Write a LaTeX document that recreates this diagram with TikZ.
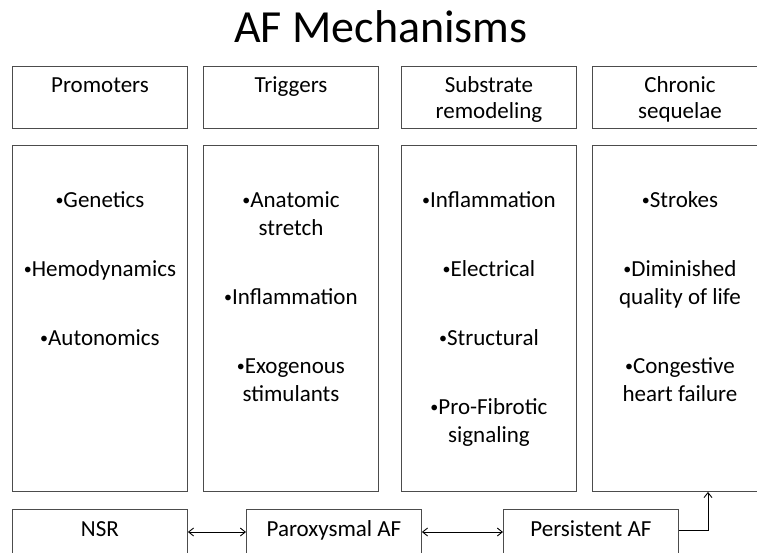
\documentclass[tikz,border=0pt]{standalone}
\usepackage{fontspec}
\setmainfont{Carlito}
\usetikzlibrary{arrows.meta}

\newcommand{\itm}{\raisebox{1.5pt}{\fontsize{16}{16}\selectfont •}}

\begin{document}
\begin{tikzpicture}[x=1pt, y=-1pt]
\useasboundingbox (0,0) rectangle (757,552);

\node (title) at (381,42) [anchor=base, font=\fontsize{46}{50}\selectfont] {AF Mechanisms};

% column headers
\begin{scope}[every node/.style={draw=black!70, line width=0.9pt, anchor=north west, inner sep=0pt,
              text width=175pt, align=flush center, font=\fontsize{23}{26}\selectfont,
              text height=26pt, text depth=36pt}]
    \node (prom) at (12, 66) {Promoters};
    \node (trig) at (203, 66) {Triggers};
    \node (subs) at (401, 66) {Substrate\\remodeling};
    \node (chron) at (592, 66) {Chronic\\sequelae};
\end{scope}

% lists
\begin{scope}[every node/.style={draw=black!70, line width=0.9pt, anchor=north west, inner sep=0pt,
              text width=175pt, align=flush center, font=\fontsize{23}{28}\selectfont,
              text height=62pt, text depth=284pt}]
    \node (promlist) at (12, 145) {\itm Genetics\\[41pt]\itm Hemodynamics\\[41pt]\itm Autonomics};
    \node (triglist) at (203, 145) {\itm Anatomic\\stretch\\[41pt]\itm Inflammation\\[41pt]\itm Exogenous\\stimulants};
    \node (subslist) at (401, 145) {\itm Inflammation\\[41pt]\itm Electrical\\[41pt]\itm Structural\\[41pt]\itm Pro-Fibrotic\\signaling};
    \node (chronlist) at (592, 145) {\itm Strokes\\[41pt]\itm Diminished\\quality of life\\[41pt]\itm Congestive\\heart failure};
\end{scope}

% AF stages
\begin{scope}[every node/.style={draw=black!70, line width=0.9pt, anchor=north west, inner sep=0pt,
              text width=175pt, align=flush center, font=\fontsize{23}{26}\selectfont,
              text height=27pt, text depth=40pt}]
    \node (nsr) at (12, 509) {NSR};
    \node (parox) at (246, 509) {Paroxysmal AF};
    \node (pers) at (503, 509) {Persistent AF};
\end{scope}

\begin{scope}[>={Straight Barb[length=5pt, width=8pt]}, line width=0.9pt]
    \draw [<->] ([yshift=-23pt]nsr.north east) -- ([yshift=-23pt]parox.north west);
    \draw [<->] ([yshift=-23pt]parox.north east) -- ([yshift=-23pt]pers.north west);
    \draw [->] ([yshift=-21pt]pers.north east) -| ([xshift=116pt]chronlist.south west);
\end{scope}

\end{tikzpicture}
\end{document}
